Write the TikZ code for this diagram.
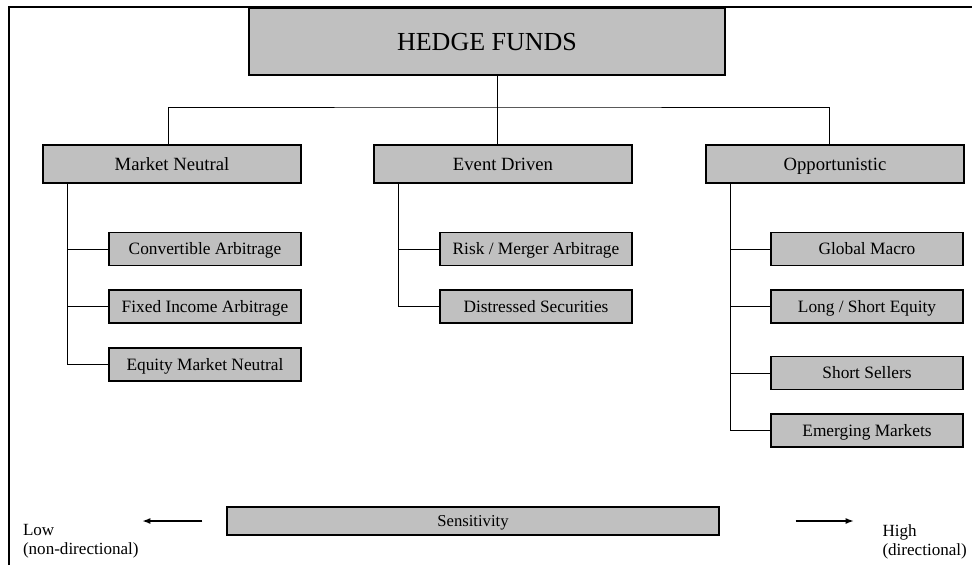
\documentclass[tikz,border=0pt]{standalone}
\usepackage{fontspec}
\setmainfont{Liberation Serif}
\usetikzlibrary{arrows.meta}

\definecolor{boxgray}{RGB}{192,192,192}

\tikzset{every picture/.style={line width=0.75pt}}
\tikzset{
  fundbox/.style={draw=black, fill=boxgray, line width=1pt, inner sep=0pt, text depth=0pt},
  topbox/.style={fundbox, minimum width=357pt, minimum height=50pt, text height=12.9pt, font=\fontsize{19.5}{22}\selectfont},
  groupbox/.style={fundbox, minimum width=193.5pt, minimum height=28.5pt, text height=9.3pt, font=\fontsize{14}{16}\selectfont},
  leafbox/.style={fundbox, minimum width=144pt, minimum height=24.75pt, text height=8.6pt, font=\fontsize{13}{15}\selectfont},
  sidetext/.style={anchor=north west, inner sep=0pt, align=left, font=\fontsize{12.8}{14.3}\selectfont}
}

\begin{document}
\begin{tikzpicture}[x=0.75pt,y=0.75pt,yscale=-1,xscale=1]
\useasboundingbox (0,0) rectangle (972,565);

%Frame
\draw [line width=1.5pt] (9,565) -- (9,7) -- (972,7) ;

%Boxes
\node [topbox] (hf) at (487,41.5) {HEDGE FUNDS};
\node [groupbox] (mn) at (172,164) {Market Neutral};
\node [groupbox] (ed) at (503,164) {Event Driven};
\node [groupbox] (op) at (835,164) {Opportunistic};

\node [leafbox] (ca) at (205,249) {Convertible Arbitrage};
\node [leafbox] (fi) at (205,306.5) {Fixed Income Arbitrage};
\node [leafbox] (em) at (205,364.5) {Equity Market Neutral};

\node [leafbox] (rm) at (536,249) {Risk / Merger Arbitrage};
\node [leafbox] (ds) at (536,306.5) {Distressed Securities};

\node [leafbox] (gm) at (867,249) {Global Macro};
\node [leafbox] (ls) at (867,306.5) {Long / Short Equity};
\node [leafbox] (ss) at (867,373) {Short Sellers};
\node [leafbox] (ems) at (867,430.5) {Emerging Markets};

\node [fundbox, minimum width=369pt, minimum height=21pt, text height=8.3pt, font=\fontsize{12.5}{14}\selectfont] (sens) at (473,521) {Sensitivity};

%Tree lines
\coordinate (bus) at (497,107);
\draw ([xshift=7.5pt]hf.south) -- (bus) ;
\draw ([xshift=-3pt]mn.north) |- (bus) -| ([xshift=-4.5pt]op.north) ;
\draw (bus) -- ([xshift=-4.5pt]ed.north) ;

\coordinate (mntrunk) at ([xshift=18.75pt]mn.south west);
\draw (mntrunk) |- (em.west) ;
\foreach \n in {ca,fi} \draw (\n.west) -- (\n.west -| mntrunk) ;

\coordinate (edtrunk) at ([xshift=18.75pt]ed.south west);
\draw (edtrunk) |- (ds.west) ;
\draw (rm.west) -- (rm.west -| edtrunk) ;

\coordinate (optrunk) at ([xshift=18.75pt]op.south west);
\draw (optrunk) |- (ems.west) ;
\foreach \n in {gm,ls,ss} \draw (\n.west) -- (\n.west -| optrunk) ;

%Arrows
\draw [-{Latex[length=6pt,width=4.5pt]}, line width=1pt] ([xshift=-18pt]sens.west) -- ([xshift=-63pt]sens.west) ;
\draw [-{Latex[length=6pt,width=4.5pt]}, line width=1pt] ([xshift=57pt]sens.east) -- ([xshift=100.5pt]sens.east) ;

% Text Node
\node [sidetext] (low) at (22.5,524) {Low\\(non-directional)};
% Text Node
\node [sidetext] (high) at (882,524) {High\\(directional)};

\end{tikzpicture}
\end{document}
